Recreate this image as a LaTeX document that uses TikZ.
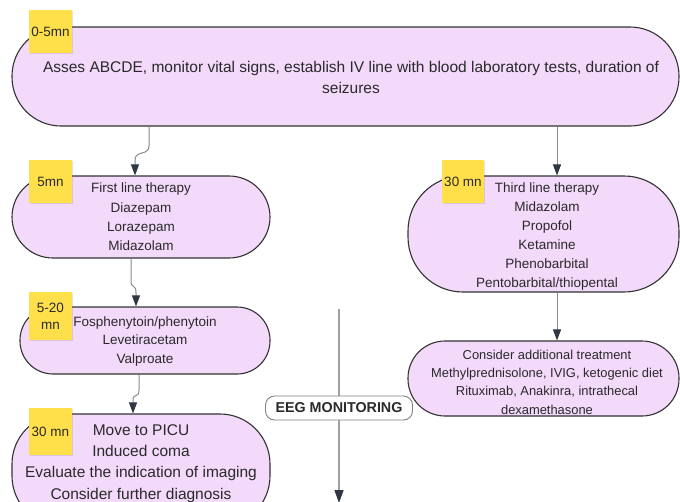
\documentclass[tikz,border=0pt]{standalone}
\usepackage{fontspec}
\setmainfont{Liberation Sans}
\usetikzlibrary{arrows.meta,shadows}
\definecolor{lav}{HTML}{F3D9FA}
\definecolor{sticky}{HTML}{FFDF4A}
\definecolor{ink}{HTML}{2A2A2A}
\definecolor{edge}{HTML}{333333}
\definecolor{wire}{HTML}{8A8A8A}
\definecolor{tipc}{HTML}{2E3742}
\begin{document}
\begin{tikzpicture}[x=1pt,y=-1pt,
 pill/.style={draw=edge, line width=1.1pt, fill=lav, inner sep=0pt, align=center, text=ink},
 words/.style={align=center, text=ink, inner sep=0pt},
 note/.style={fill=sticky, inner sep=0pt, align=center, text=ink, font=\fontsize{13.5}{17}\selectfont,
   drop shadow={opacity=0.22,shadow xshift=0.6pt,shadow yshift=-1.3pt}},
 conn/.style={draw=wire, line width=1pt, -{Triangle[width=8pt,length=11pt,color=tipc]}},
 tag/.style={draw=gray, line width=0.9pt, fill=white, rounded corners=9pt, inner sep=0pt,
   font=\bfseries\fontsize{14.3}{16}\selectfont, text=ink, minimum width=147pt, minimum height=24pt}
]
\useasboundingbox (0,0) rectangle (680,501);
\fill[white] (0,0) rectangle (680,501);
\clip (0,0) rectangle (680,501);

% boxes
\node[pill, minimum width=667pt, minimum height=99pt, rounded corners=49pt] (box1) at (345.5,76.5) {};
\node[words, font=\fontsize{15.5}{21}\selectfont] (box1t) at (351,77)
  {Asses ABCDE, monitor vital signs, establish IV line with blood laboratory tests, duration of\\seizures};
\node[pill, minimum width=258pt, minimum height=82pt, rounded corners=41pt,
  font=\fontsize{13.5}{19.3}\selectfont] (box2) at (141,217)
  {First line therapy\\Diazepam\\Lorazepam\\Midazolam};
\node[pill, minimum width=250pt, minimum height=67pt, rounded corners=33pt] (box3) at (145,340.5) {};
\node[words, font=\fontsize{13.5}{18.7}\selectfont] (box3t) at (145,341.5)
  {Fosphenytoin/phenytoin\\Levetiracetam\\Valproate};
\node[pill, minimum width=258pt, minimum height=112pt, rounded corners=50pt] (box4) at (141,470) {};
\node[words, font=\fontsize{15.5}{21.3}\selectfont] (box4t) at (141,463.5)
  {Move to PICU\\Induced coma\\Evaluate the indication of imaging\\Consider further diagnosis};
\node[pill, minimum width=271pt, minimum height=116pt, rounded corners=55pt] (box6) at (543.5,234) {};
\node[words, font=\fontsize{13.5}{19}\selectfont] (box6t) at (547,237)
  {Third line therapy\\Midazolam\\Propofol\\Ketamine\\Phenobarbital\\Pentobarbital/thiopental};
\node[pill, minimum width=271pt, minimum height=75pt, rounded corners=37pt] (box5) at (543.5,378.5) {};
\node[words, font=\fontsize{12.9}{18.3}\selectfont] (box5t) at (547,382)
  {Consider additional treatment\\Methylprednisolone, IVIG, ketogenic diet\\Rituximab, Anakinra, intrathecal\\dexamethasone};

% connectors
\draw[conn] ([xshift=-196.5pt]box1.south) -- (149,146) .. controls (149,156) and (135,150) .. (135,160) -- ([xshift=-6pt]box2.north);
\draw[conn] ([xshift=-10pt]box2.south) -- (131,280) .. controls (131,290) and (136,283) .. (136,293) -- ([xshift=-9pt]box3.north);
\draw[conn] ([xshift=-6pt]box3.south) -- (139,390) .. controls (139,399) and (133,392) .. (133,401) -- ([xshift=-8pt]box4.north);
\draw[conn] ([xshift=211.5pt]box1.south) -- ([xshift=13.5pt]box6.north);
\draw[conn] ([xshift=13.5pt]box6.south) -- ([xshift=13.5pt]box5.north);

% EEG line
\coordinate (eegs) at (339,309);
\coordinate (eege) at (339,503);
\draw[conn, draw=wire!80, line width=1.4pt, -{Triangle[width=9pt,length=13pt,color=tipc]}] (eegs) -- (eege);
\node[tag] (eeg) at (339,408) {EEG MONITORING};

% sticky notes
\node[note, minimum width=43pt, minimum height=43pt] (n1) at (50.5,31.5) {0-5mn};
\node[note, minimum width=43pt, minimum height=43pt] (n2) at (50.5,181.5) {5mn};
\node[note, minimum width=43pt, minimum height=48pt] (n3) at (50.5,316) {5-20\\mn};
\node[note, minimum width=43pt, minimum height=47pt] (n4) at (50.5,431.5) {30 mn};
\node[note, minimum width=42pt, minimum height=43pt] (n5) at (463,181.5) {30 mn};
\end{tikzpicture}
\end{document}
